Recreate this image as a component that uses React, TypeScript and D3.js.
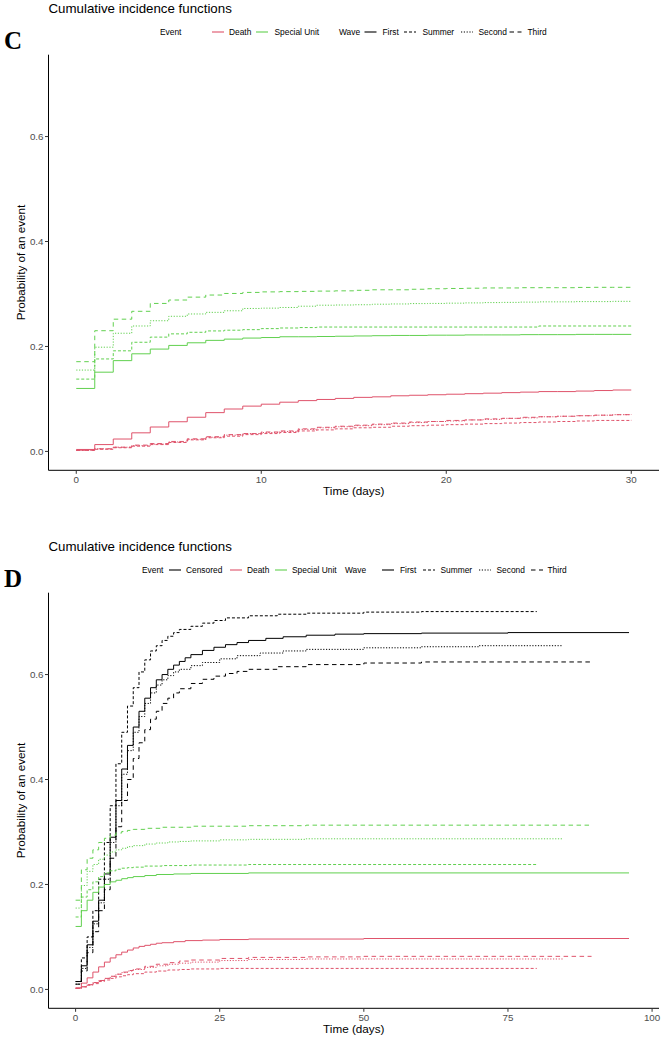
import React from "react";
import * as d3 from "d3";

// ---------- DATA ----------
const waves = ["First", "Summer", "Second", "Third"];
const eventsC = ["Death", "Special Unit"];
const eventsD = ["Censored", "Death", "Special Unit"];
const xTicksC = [0, 10, 20, 30];
const xTicksD = [0, 25, 50, 75, 100];
const yTicks = [0, 0.2, 0.4, 0.6];
const yLabels = ["0.0", "0.2", "0.4", "0.6"];

// Panel C: daily values, day 0..30
const cSpecialFirst = [0.120, 0.151, 0.173, 0.186, 0.195, 0.202, 0.207, 0.2116, 0.214, 0.216, 0.217, 0.2185, 0.2185, 0.219, 0.2195, 0.22, 0.2205, 0.221, 0.221, 0.2215, 0.2215, 0.222, 0.222, 0.222, 0.2225, 0.2225, 0.2225, 0.223, 0.223, 0.223, 0.223];
const cSpecialSummer = [0.1378, 0.1762, 0.1917, 0.208, 0.2178, 0.224, 0.227, 0.2296, 0.231, 0.232, 0.234, 0.2352, 0.236, 0.237, 0.237, 0.237, 0.237, 0.237, 0.237, 0.237, 0.237, 0.237, 0.237, 0.237, 0.237, 0.239, 0.239, 0.239, 0.239, 0.239, 0.239];
const cSpecialSecond = [0.155, 0.1986, 0.2252, 0.239, 0.249, 0.2575, 0.2619, 0.265, 0.268, 0.2724, 0.273, 0.2743, 0.2767, 0.2786, 0.279, 0.2795, 0.2805, 0.281, 0.2817, 0.282, 0.2825, 0.283, 0.2836, 0.284, 0.2845, 0.285, 0.285, 0.2855, 0.2855, 0.286, 0.286];
const cSpecialThird = [0.171, 0.230, 0.252, 0.267, 0.282, 0.2885, 0.294, 0.298, 0.301, 0.303, 0.304, 0.3045, 0.305, 0.3055, 0.306, 0.307, 0.308, 0.308, 0.309, 0.310, 0.3105, 0.311, 0.3115, 0.3115, 0.312, 0.312, 0.312, 0.3125, 0.3127, 0.3127, 0.3127];
const cDeathFirst = [0.0037, 0.013, 0.0236, 0.0354, 0.0465, 0.0565, 0.0651, 0.0739, 0.0808, 0.0863, 0.090, 0.0938, 0.0968, 0.099, 0.101, 0.103, 0.104, 0.106, 0.107, 0.108, 0.109, 0.110, 0.111, 0.112, 0.113, 0.114, 0.114, 0.115, 0.116, 0.117, 0.117];
const cDeathSummer = [0.002, 0.004, 0.007, 0.010, 0.013, 0.017, 0.022, 0.026, 0.029, 0.032, 0.034, 0.036, 0.039, 0.041, 0.043, 0.045, 0.046, 0.048, 0.049, 0.050, 0.051, 0.052, 0.053, 0.054, 0.055, 0.056, 0.057, 0.058, 0.059, 0.059, 0.060];
const cDeathSecond = [0.002, 0.005, 0.008, 0.011, 0.014, 0.018, 0.023, 0.027, 0.031, 0.034, 0.036, 0.038, 0.042, 0.045, 0.047, 0.049, 0.051, 0.053, 0.055, 0.057, 0.058, 0.060, 0.061, 0.063, 0.064, 0.066, 0.067, 0.068, 0.069, 0.070, 0.071];
const cDeathThird = [0.002, 0.005, 0.008, 0.012, 0.015, 0.019, 0.024, 0.028, 0.032, 0.034, 0.037, 0.039, 0.043, 0.046, 0.048, 0.050, 0.052, 0.054, 0.056, 0.057, 0.059, 0.060, 0.062, 0.063, 0.065, 0.066, 0.067, 0.068, 0.069, 0.070, 0.072];

// Panel D: [day, value] steps; last pair marks the end of follow-up
const dCensFirst = [[0, 0.015], [1, 0.045], [2, 0.085], [3, 0.13], [4, 0.17], [5, 0.22], [6, 0.29], [7, 0.36], [8, 0.42], [9, 0.465], [10, 0.5], [11, 0.53], [12, 0.555], [13, 0.575], [14, 0.59], [15, 0.6], [16, 0.61], [17, 0.618], [18, 0.625], [19, 0.632], [20, 0.638], [22, 0.646], [24, 0.652], [26, 0.657], [28, 0.661], [30, 0.665], [33, 0.669], [36, 0.672], [40, 0.675], [45, 0.677], [50, 0.678], [60, 0.679], [75, 0.68], [96, 0.68]];
const dCensSummer = [[0, 0.015], [1, 0.06], [2, 0.1], [3, 0.15], [4, 0.21], [5, 0.28], [6, 0.35], [7, 0.43], [8, 0.49], [9, 0.54], [10, 0.575], [11, 0.605], [12, 0.628], [13, 0.645], [14, 0.655], [15, 0.665], [16, 0.673], [17, 0.68], [18, 0.686], [20, 0.692], [22, 0.698], [24, 0.703], [26, 0.708], [30, 0.712], [35, 0.715], [40, 0.717], [50, 0.719], [60, 0.72], [80, 0.72]];
const dCensSecond = [[0, 0.01], [1, 0.04], [2, 0.08], [3, 0.125], [4, 0.165], [5, 0.21], [6, 0.28], [7, 0.35], [8, 0.41], [9, 0.455], [10, 0.49], [11, 0.52], [12, 0.545], [13, 0.565], [14, 0.58], [15, 0.59], [16, 0.598], [17, 0.605], [18, 0.61], [20, 0.617], [22, 0.623], [25, 0.63], [28, 0.636], [32, 0.641], [36, 0.645], [40, 0.648], [50, 0.651], [60, 0.653], [70, 0.655], [84.5, 0.655]];
const dCensThird = [[0, 0.01], [1, 0.035], [2, 0.07], [3, 0.11], [4, 0.15], [5, 0.19], [6, 0.25], [7, 0.31], [8, 0.36], [9, 0.4], [10, 0.44], [11, 0.47], [12, 0.495], [13, 0.515], [14, 0.53], [15, 0.545], [16, 0.555], [17, 0.565], [18, 0.573], [20, 0.583], [22, 0.591], [24, 0.597], [26, 0.602], [28, 0.606], [30, 0.61], [35, 0.615], [40, 0.619], [50, 0.622], [60, 0.624], [89.5, 0.625]];
const dSpecFirst = [[0, 0.12], [1, 0.15], [2, 0.17], [3, 0.185], [4, 0.195], [5, 0.2], [6, 0.205], [7, 0.208], [8, 0.211], [9, 0.213], [10, 0.215], [12, 0.217], [14, 0.219], [17, 0.22], [20, 0.221], [30, 0.222], [96, 0.222]];
const dSpecSummer = [[0, 0.138], [1, 0.176], [2, 0.19], [3, 0.205], [4, 0.215], [5, 0.222], [6, 0.226], [7, 0.229], [8, 0.231], [9, 0.232], [10, 0.233], [12, 0.235], [15, 0.236], [20, 0.237], [30, 0.238], [80, 0.238]];
const dSpecSecond = [[0, 0.155], [1, 0.198], [2, 0.225], [3, 0.238], [4, 0.248], [5, 0.256], [6, 0.262], [7, 0.266], [8, 0.269], [9, 0.272], [10, 0.274], [12, 0.277], [14, 0.279], [16, 0.281], [18, 0.282], [20, 0.283], [25, 0.285], [30, 0.286], [40, 0.287], [84.5, 0.287]];
const dSpecThird = [[0, 0.17], [1, 0.228], [2, 0.25], [3, 0.266], [4, 0.28], [5, 0.288], [6, 0.294], [7, 0.298], [8, 0.301], [9, 0.303], [10, 0.305], [12, 0.307], [15, 0.309], [20, 0.311], [30, 0.312], [40, 0.313], [89.5, 0.313]];
const dDeathFirst = [[0, 0.003], [1, 0.012], [2, 0.022], [3, 0.033], [4, 0.043], [5, 0.052], [6, 0.06], [7, 0.066], [8, 0.071], [9, 0.075], [10, 0.079], [11, 0.082], [12, 0.084], [13, 0.086], [14, 0.088], [15, 0.089], [17, 0.091], [19, 0.093], [22, 0.094], [25, 0.095], [30, 0.096], [50, 0.097], [96, 0.097]];
const dDeathSummer = [[0, 0.002], [1, 0.005], [2, 0.008], [3, 0.011], [4, 0.015], [5, 0.018], [6, 0.021], [7, 0.024], [8, 0.026], [9, 0.028], [10, 0.03], [12, 0.033], [14, 0.035], [16, 0.037], [18, 0.038], [20, 0.039], [25, 0.04], [80, 0.04]];
const dDeathSecond = [[0, 0.002], [1, 0.005], [2, 0.009], [3, 0.013], [4, 0.017], [5, 0.021], [6, 0.025], [7, 0.029], [8, 0.032], [9, 0.035], [10, 0.038], [12, 0.042], [14, 0.045], [16, 0.048], [18, 0.05], [20, 0.052], [25, 0.055], [30, 0.057], [40, 0.058], [84.5, 0.058]];
const dDeathThird = [[0, 0.002], [1, 0.005], [2, 0.009], [3, 0.013], [4, 0.017], [5, 0.021], [6, 0.025], [7, 0.029], [8, 0.033], [9, 0.036], [10, 0.039], [12, 0.044], [14, 0.048], [16, 0.051], [18, 0.054], [20, 0.056], [25, 0.059], [30, 0.061], [40, 0.062], [50, 0.063], [89.5, 0.063]];

// ---------- STYLE ----------
const colors: Record<string, string> = { Censored: "#000000", Death: "#DF536B", "Special Unit": "#61D04F" };
const dashes: Record<string, string> = { First: "none", Summer: "3,2", Second: "1.2,1.6", Third: "4.5,3.5" };
const FONT = "'Liberation Sans', Arial, sans-serif";

const W = 661;
const H = 1037;
const PX0 = 48.5;
const PX1 = 659;
const PANEL_OFF = 538;
const KEY = 12;

type Series = { event: string; wave: string; pts: number[][] };

const dailyPts = (vals: number[]) => vals.map((v, i) => [i, v]);

const seriesC: Series[] = [
  { event: "Special Unit", wave: "First", pts: dailyPts(cSpecialFirst) },
  { event: "Special Unit", wave: "Summer", pts: dailyPts(cSpecialSummer) },
  { event: "Special Unit", wave: "Second", pts: dailyPts(cSpecialSecond) },
  { event: "Special Unit", wave: "Third", pts: dailyPts(cSpecialThird) },
  { event: "Death", wave: "First", pts: dailyPts(cDeathFirst) },
  { event: "Death", wave: "Summer", pts: dailyPts(cDeathSummer) },
  { event: "Death", wave: "Second", pts: dailyPts(cDeathSecond) },
  { event: "Death", wave: "Third", pts: dailyPts(cDeathThird) },
];

const seriesD: Series[] = [
  { event: "Censored", wave: "First", pts: dCensFirst },
  { event: "Censored", wave: "Summer", pts: dCensSummer },
  { event: "Censored", wave: "Second", pts: dCensSecond },
  { event: "Censored", wave: "Third", pts: dCensThird },
  { event: "Special Unit", wave: "First", pts: dSpecFirst },
  { event: "Special Unit", wave: "Summer", pts: dSpecSummer },
  { event: "Special Unit", wave: "Second", pts: dSpecSecond },
  { event: "Special Unit", wave: "Third", pts: dSpecThird },
  { event: "Death", wave: "First", pts: dDeathFirst },
  { event: "Death", wave: "Summer", pts: dDeathSummer },
  { event: "Death", wave: "Second", pts: dDeathSecond },
  { event: "Death", wave: "Third", pts: dDeathThird },
];

type LegendItem = { kind: "title" | "key" | "label"; x: number; text?: string; color?: string; dash?: string };

function Legend({ y, items }: { y: number; items: LegendItem[] }) {
  return (
    <g>
      {items.map((it, i) => {
        if (it.kind === "key") {
          return (
            <line key={i} x1={it.x} x2={it.x + KEY} y1={y} y2={y} stroke={it.color} strokeWidth={1.1}
              strokeDasharray={it.dash === "none" ? undefined : it.dash} />
          );
        }
        return (
          <text key={i} x={it.x} y={y + 3} fontSize={8.4} fill="#000" fontFamily={FONT}>{it.text}</text>
        );
      })}
    </g>
  );
}

function Panel({ off, letter, series, xDomain, xTicks, legend }: {
  off: number; letter: string; series: Series[]; xDomain: [number, number]; xTicks: number[]; legend: LegendItem[];
}) {
  const yTop = 54.7 + off;
  const yBot = 470.3 + off;
  const x = d3.scaleLinear().domain(xDomain).range([PX0, PX1]);
  const y = d3.scaleLinear().domain([-0.036, 0.756]).range([yBot, yTop]);
  const line = d3.line<number[]>().x((d) => x(d[0])).y((d) => y(d[1])).curve(d3.curveStepAfter);
  const midX = (PX0 + PX1) / 2;
  const midY = (yTop + yBot) / 2;
  return (
    <g>
      <text x={48.5} y={off + 13} fontSize={13.3} fontFamily={FONT} fill="#000">Cumulative incidence functions</text>
      <text x={4} y={off + 49} fontSize={25} fontWeight="bold" fontFamily="'Liberation Serif', 'Times New Roman', serif" fill="#000">{letter}</text>
      <Legend y={off + 32} items={legend} />
      {series.map((s, i) => (
        <path key={i} d={line(s.pts) || ""} fill="none" stroke={colors[s.event]} strokeWidth={1}
          strokeDasharray={dashes[s.wave] === "none" ? undefined : dashes[s.wave]} />
      ))}
      {/* axes */}
      <line x1={PX0} x2={PX0} y1={yTop} y2={yBot} stroke="#000" strokeWidth={1} />
      <line x1={PX0} x2={PX1} y1={yBot} y2={yBot} stroke="#000" strokeWidth={1} />
      {yTicks.map((t, i) => (
        <g key={"y" + i}>
          <line x1={PX0 - 3.5} x2={PX0} y1={y(t)} y2={y(t)} stroke="#333" strokeWidth={1} />
          <text x={PX0 - 5} y={y(t) + 3.5} textAnchor="end" fontSize={9.8} fill="#4D4D4D" fontFamily={FONT}>{yLabels[i]}</text>
        </g>
      ))}
      {xTicks.map((t, i) => (
        <g key={"x" + i}>
          <line x1={x(t)} x2={x(t)} y1={yBot} y2={yBot + 3.5} stroke="#333" strokeWidth={1} />
          <text x={x(t)} y={yBot + 13} textAnchor="middle" fontSize={9.8} fill="#4D4D4D" fontFamily={FONT}>{t}</text>
        </g>
      ))}
      <text x={midX} y={yBot + 24.5} textAnchor="middle" fontSize={11.7} fill="#000" fontFamily={FONT}>Time (days)</text>
      <text transform={`translate(25,${midY}) rotate(-90)`} textAnchor="middle" fontSize={11.7} fill="#000" fontFamily={FONT}>Probability of an event</text>
    </g>
  );
}

const legendC: LegendItem[] = [
  { kind: "label", x: 160, text: "Event" },
  { kind: "key", x: 212, color: colors[eventsC[0]], dash: "none" },
  { kind: "label", x: 229, text: eventsC[0] },
  { kind: "key", x: 256, color: colors[eventsC[1]], dash: "none" },
  { kind: "label", x: 274.5, text: eventsC[1] },
  { kind: "label", x: 339, text: "Wave" },
  ...waves.flatMap((w, i) => [
    { kind: "key" as const, x: [364.5, 404, 461, 509.5][i], color: "#000", dash: dashes[w] },
    { kind: "label" as const, x: [382.5, 422.5, 478.5, 527.5][i], text: w },
  ]),
];

const legendD: LegendItem[] = [
  { kind: "label", x: 142, text: "Event" },
  ...eventsD.flatMap((e, i) => [
    { kind: "key" as const, x: [169, 230, 275][i], color: colors[e], dash: "none" },
    { kind: "label" as const, x: [186, 247, 292][i], text: e },
  ]),
  { kind: "label", x: 345, text: "Wave" },
  ...waves.flatMap((w, i) => [
    { kind: "key" as const, x: [382, 423, 479, 531][i], color: "#000", dash: dashes[w] },
    { kind: "label" as const, x: [400, 440.5, 496.5, 547.5][i], text: w },
  ]),
];

export default function App() {
  return (
    <div style={{ position: "absolute", left: 0, top: 0 }}>
      <svg width={W} height={H} style={{ display: "block", background: "#fff" }}>
        <rect width={W} height={H} fill="#fff" />
        <Panel off={0} letter="C" series={seriesC} xDomain={[-1.5, 31.5]} xTicks={xTicksC} legend={legendC} />
        <Panel off={PANEL_OFF} letter="D" series={seriesD} xDomain={[-4.7, 101.2]} xTicks={xTicksD} legend={legendD} />
      </svg>
    </div>
  );
}
